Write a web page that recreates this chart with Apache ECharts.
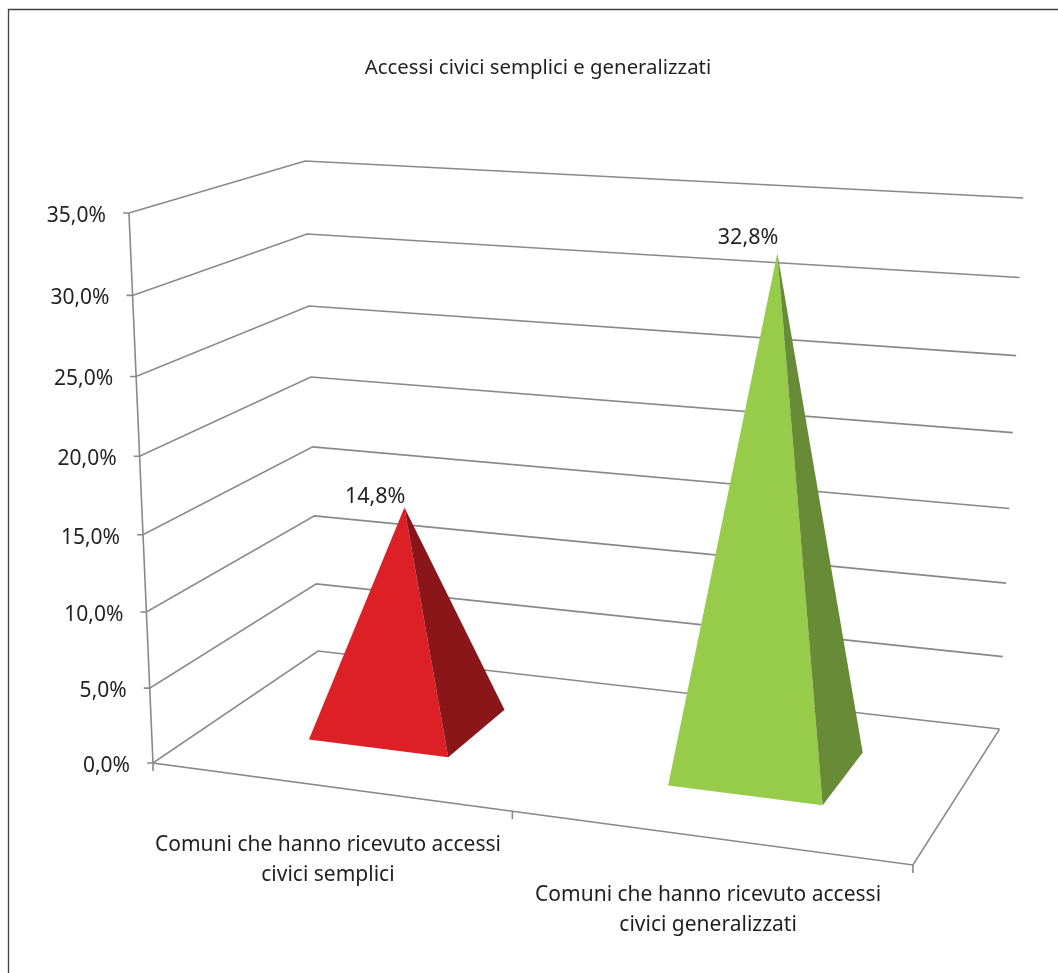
<!DOCTYPE html>
<html>
<head>
<meta charset="utf-8">
<style>html,body{margin:0;padding:0;background:#fff}#c{width:1058px;height:973px}</style>
<script src="https://cdn.jsdelivr.net/npm/echarts@6/dist/echarts.min.js"></script>
</head>
<body>
<div id="c"></div>
<script>
const titleText = 'Accessi civici semplici e generalizzati';
const categories = ['Comuni che hanno ricevuto accessi\ncivici semplici', 'Comuni che hanno ricevuto accessi\ncivici generalizzati'];
const seriesValues = [14.8, 32.8];
const tickValues = [0, 5, 10, 15, 20, 25, 30, 35];
const faceColors = ['#DD1F26', '#97CB4A'];
const sideColors = ['#8A1619', '#688B37'];

const FONT = '"Noto Sans", sans-serif';
const TEXT = '#231F20';
const LINE = '#888888';
const labelOffsets = [[0, 58], [1, 57]];
const valueLabelGaps = [11, 15];
const BAR_SHIFT = 0.002;

// camera: normalised box coordinates (u across, w into the page, t up) to pixels
function project(u, w, t) {
  const d = 1 - 0.1029 * u + 0.1282 * w - 0.054 * t;
  return [
    (666 * u + 205.8 * w - 31 * t + 153) / d,
    (13 * u - 28.5 * w - 561.5 * t + 6.3 * u * t + 763) / d
  ];
}
function norm(params, p) {
  const s = params.coordSys;
  return [(p[0] - s.x) / s.width, (s.y + s.height - p[1]) / s.height];
}
const fmt = v => v.toFixed(1).replace('.', ',') + '%';
const stroke = {stroke: LINE, lineWidth: 1.6, fill: null};

function renderTick(params, api) {
  const t = norm(params, api.coord([0, api.value(1)]))[1];
  const a = project(0, 0, t), b = project(0, 1, t), c = project(1, 1, t);
  return {type: 'group', children: [
    {type: 'polyline', shape: {points: [[a[0] - 6, a[1]], a, b, c]}, style: stroke},
    {type: 'text', style: {text: fmt(api.value(1)), x: a[0] - 23, y: a[1] + 3,
      align: 'right', verticalAlign: 'middle', fill: TEXT, font: '21px ' + FONT}}
  ]};
}
function renderFloor(params, api) {
  const i = api.value(0);
  const u = norm(params, api.coord([i, 0]))[0];
  const g = project(u, 0, 0);
  const children = [];
  const off = labelOffsets[i];
  children.push({type: 'text', style: {text: categories[i], x: g[0] + off[0], y: g[1] + off[1] - 14,
    align: 'center', verticalAlign: 'top', fill: TEXT, font: '21px ' + FONT, lineHeight: 29.5}});
  if (i === 0) {
    const o = project(0, 0, 0), top = project(0, 0, 1), r = project(1, 0, 0), br = project(1, 1, 0), m = project(.5, 0, 0);
    children.push(
      {type: 'polyline', shape: {points: [top, o, r, br]}, style: stroke},
      {type: 'polyline', shape: {points: [o, [o[0], o[1] + 8]]}, style: stroke},
      {type: 'polyline', shape: {points: [m, [m[0], m[1] + 8]]}, style: stroke},
      {type: 'polyline', shape: {points: [r, [r[0], r[1] + 8]]}, style: stroke}
    );
  }
  return {type: 'group', children};
}
function renderPyramid(params, api) {
  const i = api.value(0), v = api.value(1);
  const n = norm(params, api.coord([i, v]));
  const half = 0.2 * api.size([1, 0])[0] / params.coordSys.width;
  const cu = n[0] + BAR_SHIFT;
  const fl = project(cu - half, .3, 0), fr = project(cu + half, .3, 0), br = project(cu + half, .7, 0);
  const apex = project(cu, .5, n[1]);
  return {type: 'group', children: [
    {type: 'polygon', shape: {points: [fl, fr, apex]}, style: {fill: faceColors[i]}},
    {type: 'polygon', shape: {points: [fr, br, apex]}, style: {fill: sideColors[i]}},
    {type: 'text', style: {text: fmt(v), x: apex[0] + 1, y: apex[1] - valueLabelGaps[i],
      align: 'right', verticalAlign: 'middle', fill: TEXT, font: '21.5px ' + FONT}}
  ]};
}

const chart = echarts.init(document.getElementById('c'), null, {renderer: 'canvas'});
chart.setOption({
  animation: false,
  backgroundColor: '#fff',
  title: {text: titleText, left: 533, top: 53, textAlign: 'center',
    textStyle: {fontFamily: FONT, fontSize: 20.35, fontWeight: 'normal', color: TEXT}},
  graphic: [{type: 'rect', silent: true, shape: {x: 8.5, y: 9.5, width: 1100, height: 1100},
    style: {fill: null, stroke: '#404040', lineWidth: 1.3}}],
  grid: {left: 0, right: 0, top: 0, bottom: 0},
  xAxis: {type: 'category', show: false, data: categories},
  yAxis: {type: 'value', show: false, min: 0, max: 35, interval: 5},
  series: [
    {type: 'custom', name: 'griglia', silent: true, z: 1, renderItem: renderTick,
      data: tickValues.map(v => [0, v])},
    {type: 'custom', name: 'base', silent: true, z: 2, renderItem: renderFloor,
      data: categories.map((c, i) => [i, 0])},
    {type: 'custom', name: 'Accessi civici', silent: true, z: 3, renderItem: renderPyramid,
      data: seriesValues.map((v, i) => [i, v])}
  ]
});
</script>
</body>
</html>
